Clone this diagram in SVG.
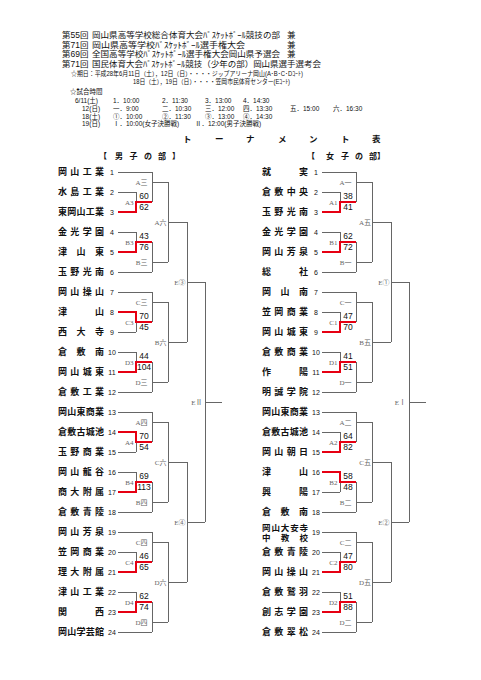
<svg xmlns="http://www.w3.org/2000/svg" width="481" height="680" viewBox="0 0 481 680">
<style>
text{font-family:"Liberation Sans","Noto Sans CJK JP",sans-serif;fill:#111}
.hd{font-size:8.5px}
.sm{font-size:6.3px}
.tm{font-size:6.5px}
.tt{font-size:8.5px;font-weight:bold}
.sec{font-size:8px;font-weight:bold}
.nm{font-size:9px;font-weight:bold}
.nm2{font-size:8.5px;font-weight:bold}
.no{font-size:7px;text-anchor:middle}
.sc{font-size:8.5px;text-anchor:middle}
.lb{font-family:"Liberation Serif","Noto Sans CJK JP",serif;font-size:7px;fill:#666;text-anchor:end}
.ln{fill:none;stroke:#666;stroke-width:1;shape-rendering:crispEdges}
.rd{fill:none;stroke:#e60012;stroke-width:2}
</style>
<rect width="481" height="680" fill="#fff"/>
<g id="header">
<text class="hd" x="62" y="38">第55回</text><text class="hd" x="92" y="38" textLength="188" lengthAdjust="spacingAndGlyphs">岡山県高等学校総合体育大会ﾊﾞｽｹｯﾄﾎﾞｰﾙ競技の部</text><text class="hd" x="287" y="38">兼</text>
<text class="hd" x="62" y="47.5">第71回</text><text class="hd" x="92" y="47.5" textLength="153" lengthAdjust="spacingAndGlyphs">岡山県高等学校ﾊﾞｽｹｯﾄﾎﾞｰﾙ選手権大会</text><text class="hd" x="287" y="47.5">兼</text>
<text class="hd" x="62" y="57">第69回</text><text class="hd" x="92" y="57" textLength="188" lengthAdjust="spacingAndGlyphs">全国高等学校ﾊﾞｽｹｯﾄﾎﾞｰﾙ選手権大会岡山県予選会</text><text class="hd" x="287" y="57">兼</text>
<text class="hd" x="62" y="66.5">第71回</text><text class="hd" x="92" y="66.5" textLength="229" lengthAdjust="spacingAndGlyphs">国民体育大会ﾊﾞｽｹｯﾄﾎﾞｰﾙ競技（少年の部）岡山県選手選考会</text>
<text class="sm" x="71" y="75.5" textLength="232" lengthAdjust="spacingAndGlyphs">☆期日：平成28年6月11日（土），12日（日）・・・・ジップアリーナ岡山(A･B･C･Dｺｰﾄ)</text>
<text class="sm" x="133" y="84" textLength="157" lengthAdjust="spacingAndGlyphs">18日（土），19日（日）・・・・笠岡市民体育センター(Eｺｰﾄ)</text>
<text class="tm" x="70" y="93.5">☆試合時間</text>
<text class="tm" x="75" y="102.5">6/11(土)</text><text class="tm" x="113" y="102.5">1．10:00</text><text class="tm" x="162" y="102.5">2．11:30</text><text class="tm" x="205" y="102.5">3．13:00</text><text class="tm" x="243" y="102.5">4．14:30</text>
<text class="tm" x="82" y="110.5">12(日)</text><text class="tm" x="113" y="110.5">一．9:00</text><text class="tm" x="162" y="110.5">二．10:30</text><text class="tm" x="205" y="110.5">三．12:00</text><text class="tm" x="243" y="110.5">四．13:30</text><text class="tm" x="290" y="110.5">五．15:00</text><text class="tm" x="333" y="110.5">六．16:30</text>
<text class="tm" x="82" y="118.5">18(土)</text><text class="tm" x="113" y="118.5">①．10:00</text><text class="tm" x="162" y="118.5">②．11:30</text><text class="tm" x="205" y="118.5">③．13:00</text><text class="tm" x="243" y="118.5">④．14:30</text>
<text class="tm" x="82" y="126">19(日)</text><text class="tm" x="113" y="126">Ⅰ．10:00(女子決勝戦)</text><text class="tm" x="195" y="126">Ⅱ．12:00(男子決勝戦)</text>
<text class="tt" x="183 215 246 278 309 341 372" y="142">トーナメント表</text>
<text class="sec" x="99 115 129.5 144 158 172" y="159">【男子の部】</text>
<text class="sec" x="307 326 341 355 369 377" y="159">【女子の部】</text>
</g>
<g id="connectors">
<path class="ln" d="M118 172H152M118 192H136M118 212H136M118 232H136M118 252H136M118 272H152M136 192V212M136 232V252M152 172V202M152 182H168M152 242V272M152 262H168M168 182V262M168 222H187
M118 292H152M118 312H136M118 332H136M118 352H136M118 372H136M118 392H152M136 312V332M136 352V372M152 292V322M152 302H168M152 362V392M152 382H168M168 302V382M168 342H187
M118 412H152M118 432H136M118 452H136M118 472H136M118 492H136M118 512H152M136 432V452M136 472V492M152 412V442M152 422H168M152 482V512M152 502H168M168 422V502M168 462H187
M118 532H152M118 552H136M118 572H136M118 592H136M118 612H136M118 632H152M136 552V572M136 592V612M152 532V562M152 542H168M152 602V632M152 622H168M168 542V622M168 582H187
M187 222V342M187 282H205M187 462V582M187 522H205M205 282V522M205 402H222"/>
<path class="ln" d="M322 172H356M322 192H340M322 212H340M322 232H340M322 252H340M322 272H356M340 192V212M340 232V252M356 172V202M356 182H372M356 242V272M356 262H372M372 182V262M372 222H391
M322 292H356M322 312H340M322 332H340M322 352H340M322 372H340M322 392H356M340 312V332M340 352V372M356 292V322M356 302H372M356 362V392M356 382H372M372 302V382M372 342H391
M322 412H356M322 432H340M322 452H340M322 472H340M322 492H340M322 512H356M340 432V452M340 472V492M356 412V442M356 422H372M356 482V512M356 502H372M372 422V502M372 462H391
M322 532H356M322 552H340M322 572H340M322 592H340M322 612H340M322 632H356M340 552V572M340 592V612M356 532V562M356 542H372M356 602V632M356 622H372M372 542V622M372 582H391
M391 222V342M391 282H409M391 462V582M391 522H409M409 282V522M409 402H426"/>
<path class="rd" d="M118 212H136V202H152M118 252H136V242H152M118 312H136V322H152M118 372H136V362H152M118 432H136V442H152M118 492H136V482H152M118 572H136V562H152M118 612H136V602H152"/>
<path class="rd" d="M322 212H340V202H356M322 252H340V242H356M322 332H340V322H356M322 372H340V362H356M322 452H340V442H356M322 472H340V482H356M322 572H340V562H356M322 612H340V602H356"/>
</g>
<g id="scores">
<text class="sc" x="144" y="199">60</text><text class="sc" x="144" y="210">62</text>
<text class="sc" x="144" y="239">43</text><text class="sc" x="144" y="250">76</text>
<text class="sc" x="144" y="319">70</text><text class="sc" x="144" y="330">45</text>
<text class="sc" x="144" y="359">44</text><text class="sc" x="144" y="370">104</text>
<text class="sc" x="144" y="439">70</text><text class="sc" x="144" y="450">54</text>
<text class="sc" x="144" y="479">69</text><text class="sc" x="144" y="490">113</text>
<text class="sc" x="144" y="559">46</text><text class="sc" x="144" y="570">65</text>
<text class="sc" x="144" y="599">62</text><text class="sc" x="144" y="610">74</text>
<text class="sc" x="348" y="199">38</text><text class="sc" x="348" y="210">41</text>
<text class="sc" x="348" y="239">62</text><text class="sc" x="348" y="250">72</text>
<text class="sc" x="348" y="319">47</text><text class="sc" x="348" y="330">70</text>
<text class="sc" x="348" y="359">41</text><text class="sc" x="348" y="370">51</text>
<text class="sc" x="348" y="439">64</text><text class="sc" x="348" y="450">82</text>
<text class="sc" x="348" y="479">58</text><text class="sc" x="348" y="490">48</text>
<text class="sc" x="348" y="559">47</text><text class="sc" x="348" y="570">80</text>
<text class="sc" x="348" y="599">51</text><text class="sc" x="348" y="610">88</text>
</g>
<g id="match-labels">
<text class="lb" x="133.5" y="204.5">A3</text><text class="lb" x="133.5" y="244.5">B3</text><text class="lb" x="133.5" y="324.5">C3</text><text class="lb" x="133.5" y="364.5">D3</text>
<text class="lb" x="133.5" y="444.5">A4</text><text class="lb" x="133.5" y="484.5">B4</text><text class="lb" x="133.5" y="564.5">C4</text><text class="lb" x="133.5" y="604.5">D4</text>
<text class="lb" x="147.5" y="184.5">A三</text><text class="lb" x="147.5" y="264.5">B三</text><text class="lb" x="147.5" y="304.5">C三</text><text class="lb" x="147.5" y="384.5">D三</text>
<text class="lb" x="147.5" y="424.5">A四</text><text class="lb" x="147.5" y="504.5">B四</text><text class="lb" x="147.5" y="544.5">C四</text><text class="lb" x="147.5" y="624.5">D四</text>
<text class="lb" x="166.5" y="224.5">A六</text><text class="lb" x="166.5" y="344.5">B六</text><text class="lb" x="166.5" y="464.5">C六</text><text class="lb" x="166.5" y="584.5">D六</text>
<text class="lb" x="185.5" y="284.5">E③</text><text class="lb" x="185.5" y="524.5">E④</text><text class="lb" x="202.5" y="404.5">EⅡ</text>
<text class="lb" x="337.5" y="204.5">A1</text><text class="lb" x="337.5" y="244.5">B1</text><text class="lb" x="337.5" y="324.5">C1</text><text class="lb" x="337.5" y="364.5">D1</text>
<text class="lb" x="337.5" y="444.5">A2</text><text class="lb" x="337.5" y="484.5">B2</text><text class="lb" x="337.5" y="564.5">C2</text><text class="lb" x="337.5" y="604.5">D2</text>
<text class="lb" x="351.5" y="184.5">A一</text><text class="lb" x="351.5" y="264.5">B一</text><text class="lb" x="351.5" y="304.5">C一</text><text class="lb" x="351.5" y="384.5">D一</text>
<text class="lb" x="351.5" y="424.5">A二</text><text class="lb" x="351.5" y="504.5">B二</text><text class="lb" x="351.5" y="544.5">C二</text><text class="lb" x="351.5" y="624.5">D二</text>
<text class="lb" x="371" y="224.5">A五</text><text class="lb" x="371" y="344.5">B五</text><text class="lb" x="371" y="464.5">C五</text><text class="lb" x="371" y="584.5">D五</text>
<text class="lb" x="389.5" y="284.5">E①</text><text class="lb" x="389.5" y="524.5">E②</text><text class="lb" x="406" y="404.5">EⅠ</text>
</g>
<g id="boys">
<g id="m1"><text class="nm" x="58 70.3 82.7 95" y="175.3">岡山工業</text><text class="no" x="112" y="174.5">1</text></g>
<g id="m2"><text class="nm" x="58 70.3 82.7 95" y="195.3">水島工業</text><text class="no" x="112" y="194.5">2</text></g>
<g id="m3"><text class="nm" x="58 67.25 76.5 85.75 95" y="215.3">東岡山工業</text><text class="no" x="112" y="214.5">3</text></g>
<g id="m4"><text class="nm" x="58 70.3 82.7 95" y="235.3">金光学園</text><text class="no" x="112" y="234.5">4</text></g>
<g id="m5"><text class="nm" x="58 76.5 95" y="255.3">津山東</text><text class="no" x="112" y="254.5">5</text></g>
<g id="m6"><text class="nm" x="58 70.3 82.7 95" y="275.3">玉野光南</text><text class="no" x="112" y="274.5">6</text></g>
<g id="m7"><text class="nm" x="58 70.3 82.7 95" y="295.3">岡山操山</text><text class="no" x="112" y="294.5">7</text></g>
<g id="m8"><text class="nm" x="58 95" y="315.3">津山</text><text class="no" x="112" y="314.5">8</text></g>
<g id="m9"><text class="nm" x="58 76.5 95" y="335.3">西大寺</text><text class="no" x="112" y="334.5">9</text></g>
<g id="m10"><text class="nm" x="58 76.5 95" y="355.3">倉敷南</text><text class="no" x="112" y="354.5">10</text></g>
<g id="m11"><text class="nm" x="58 70.3 82.7 95" y="375.3">岡山城東</text><text class="no" x="112" y="374.5">11</text></g>
<g id="m12"><text class="nm" x="58 70.3 82.7 95" y="395.3">倉敷工業</text><text class="no" x="112" y="394.5">12</text></g>
<g id="m13"><text class="nm" x="58 67.25 76.5 85.75 95" y="415.3">岡山東商業</text><text class="no" x="112" y="414.5">13</text></g>
<g id="m14"><text class="nm" x="58 67.25 76.5 85.75 95" y="435.3">倉敷古城池</text><text class="no" x="112" y="434.5">14</text></g>
<g id="m15"><text class="nm" x="58 70.3 82.7 95" y="455.3">玉野商業</text><text class="no" x="112" y="454.5">15</text></g>
<g id="m16"><text class="nm" x="58 70.3 82.7 95" y="475.3">岡山龍谷</text><text class="no" x="112" y="474.5">16</text></g>
<g id="m17"><text class="nm" x="58 70.3 82.7 95" y="495.3">商大附属</text><text class="no" x="112" y="494.5">17</text></g>
<g id="m18"><text class="nm" x="58 70.3 82.7 95" y="515.3">倉敷青陵</text><text class="no" x="112" y="514.5">18</text></g>
<g id="m19"><text class="nm" x="58 70.3 82.7 95" y="535.3">岡山芳泉</text><text class="no" x="112" y="534.5">19</text></g>
<g id="m20"><text class="nm" x="58 70.3 82.7 95" y="555.3">笠岡商業</text><text class="no" x="112" y="554.5">20</text></g>
<g id="m21"><text class="nm" x="58 70.3 82.7 95" y="575.3">理大附属</text><text class="no" x="112" y="574.5">21</text></g>
<g id="m22"><text class="nm" x="58 70.3 82.7 95" y="595.3">津山工業</text><text class="no" x="112" y="594.5">22</text></g>
<g id="m23"><text class="nm" x="58 95" y="615.3">関西</text><text class="no" x="112" y="614.5">23</text></g>
<g id="m24"><text class="nm" x="58 67.25 76.5 85.75 95" y="635.3">岡山学芸館</text><text class="no" x="112" y="634.5">24</text></g>
</g>
<g id="girls">
<g id="w1"><text class="nm" x="262 299" y="175.3">就実</text><text class="no" x="316" y="174.5">1</text></g>
<g id="w2"><text class="nm" x="262 274.3 286.7 299" y="195.3">倉敷中央</text><text class="no" x="316" y="194.5">2</text></g>
<g id="w3"><text class="nm" x="262 274.3 286.7 299" y="215.3">玉野光南</text><text class="no" x="316" y="214.5">3</text></g>
<g id="w4"><text class="nm" x="262 274.3 286.7 299" y="235.3">金光学園</text><text class="no" x="316" y="234.5">4</text></g>
<g id="w5"><text class="nm" x="262 274.3 286.7 299" y="255.3">岡山芳泉</text><text class="no" x="316" y="254.5">5</text></g>
<g id="w6"><text class="nm" x="262 299" y="275.3">総社</text><text class="no" x="316" y="274.5">6</text></g>
<g id="w7"><text class="nm" x="262 280.5 299" y="295.3">岡山南</text><text class="no" x="316" y="294.5">7</text></g>
<g id="w8"><text class="nm" x="262 274.3 286.7 299" y="315.3">笠岡商業</text><text class="no" x="316" y="314.5">8</text></g>
<g id="w9"><text class="nm" x="262 274.3 286.7 299" y="335.3">岡山城東</text><text class="no" x="316" y="334.5">9</text></g>
<g id="w10"><text class="nm" x="262 274.3 286.7 299" y="355.3">倉敷商業</text><text class="no" x="316" y="354.5">10</text></g>
<g id="w11"><text class="nm" x="262 299" y="375.3">作陽</text><text class="no" x="316" y="374.5">11</text></g>
<g id="w12"><text class="nm" x="262 274.3 286.7 299" y="395.3">明誠学院</text><text class="no" x="316" y="394.5">12</text></g>
<g id="w13"><text class="nm" x="262 271.25 280.5 289.75 299" y="415.3">岡山東商業</text><text class="no" x="316" y="414.5">13</text></g>
<g id="w14"><text class="nm" x="262 271.25 280.5 289.75 299" y="435.3">倉敷古城池</text><text class="no" x="316" y="434.5">14</text></g>
<g id="w15"><text class="nm" x="262 274.3 286.7 299" y="455.3">岡山朝日</text><text class="no" x="316" y="454.5">15</text></g>
<g id="w16"><text class="nm" x="262 299" y="475.3">津山</text><text class="no" x="316" y="474.5">16</text></g>
<g id="w17"><text class="nm" x="262 299" y="495.3">興陽</text><text class="no" x="316" y="494.5">17</text></g>
<g id="w18"><text class="nm" x="262 280.5 299" y="515.3">倉敷南</text><text class="no" x="316" y="514.5">18</text></g>
<g id="w19"><text class="nm2" x="262 271.4 280.8 290.2 299.6" y="530.8">岡山大安寺</text><text class="nm2" x="262 280.8 299.6" y="540.8">中教校</text><text class="no" x="316" y="534.5">19</text></g>
<g id="w20"><text class="nm" x="262 274.3 286.7 299" y="555.3">倉敷青陵</text><text class="no" x="316" y="554.5">20</text></g>
<g id="w21"><text class="nm" x="262 274.3 286.7 299" y="575.3">岡山操山</text><text class="no" x="316" y="574.5">21</text></g>
<g id="w22"><text class="nm" x="262 274.3 286.7 299" y="595.3">倉敷鷲羽</text><text class="no" x="316" y="594.5">22</text></g>
<g id="w23"><text class="nm" x="262 274.3 286.7 299" y="615.3">創志学園</text><text class="no" x="316" y="614.5">23</text></g>
<g id="w24"><text class="nm" x="262 274.3 286.7 299" y="635.3">倉敷翠松</text><text class="no" x="316" y="634.5">24</text></g>
</g>
</svg>
